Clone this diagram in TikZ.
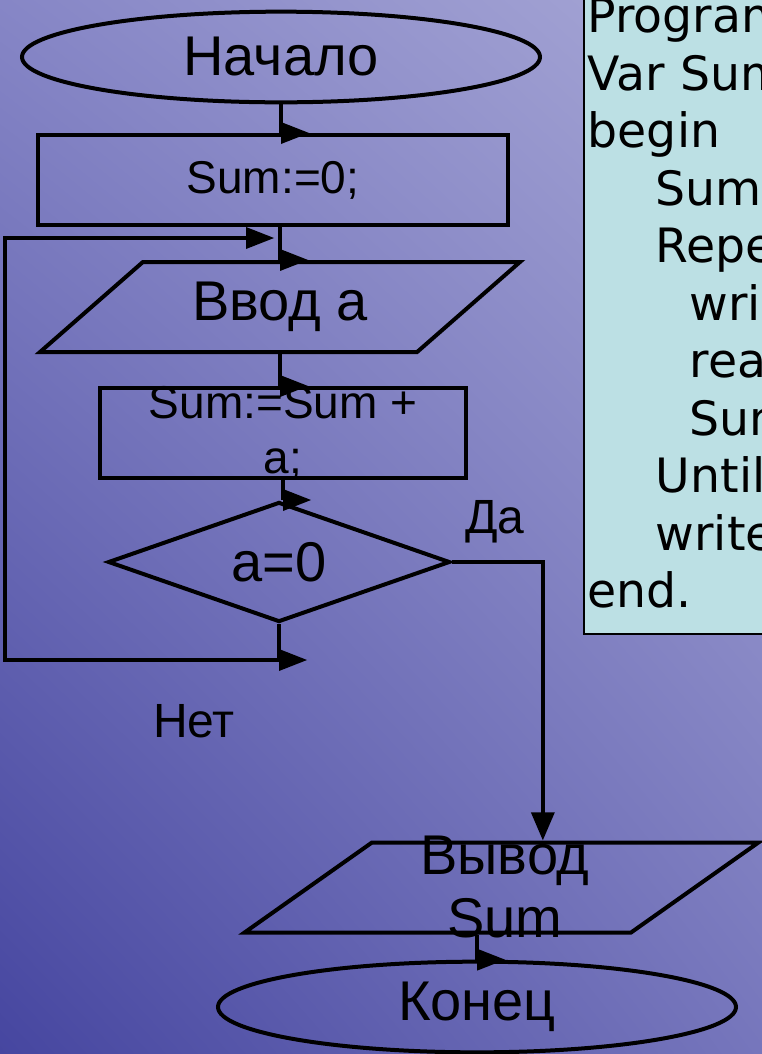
\documentclass[tikz,border=0pt]{standalone}
\usepackage{fontspec}
\setmainfont{Liberation Sans}
\newfontfamily\codefont{DejaVu Sans}
\usetikzlibrary{shapes.geometric,arrows.meta,shadings}
\definecolor{bgtl}{RGB}{134,134,198}
\definecolor{bgtr}{RGB}{168,168,214}
\definecolor{bgbl}{RGB}{70,70,160}
\definecolor{bgbr}{RGB}{118,118,188}
\definecolor{codebg}{RGB}{188,224,228}
\begin{document}
\begin{tikzpicture}[x=0.75pt,y=-0.75pt,line width=3pt,
  term/.style={ellipse,draw,minimum width=388.5pt,minimum height=68pt,inner sep=0pt,font=\fontsize{42}{48}\selectfont},
  proc/.style={rectangle,draw,minimum height=67.5pt,inner sep=0pt,font=\fontsize{34.5}{41}\selectfont},
  io/.style={trapezium,trapezium stretches=true,draw,minimum height=67.5pt,inner sep=0pt,font=\fontsize{42}{47}\selectfont},
  test/.style={diamond,aspect=2.85,draw,minimum width=256.5pt,minimum height=90pt,inner sep=0pt,font=\fontsize{42}{48}\selectfont},
  txt/.style={align=center,inner sep=0pt},
  lbl/.style={font=\fontsize{36}{40}\selectfont},
  rtip/.pic={\fill (0,-11)--(28,0)--(0,11)--cycle;}]
\useasboundingbox (0,0) rectangle (762,1054);
\clip (0,0) rectangle (762,1054);
\shade[upper left=bgtl,upper right=bgtr,lower left=bgbl,lower right=bgbr] (0,0) rectangle (762,1054);
% program text
\node[draw,line width=1.2pt,fill=codebg,anchor=north west,inner xsep=3pt,inner ysep=19.5pt,text width=200pt,align=left,font=\codefont\fontsize{35.5}{43.1}\selectfont] (code) at (583,-28.5)
  {Program\\Var Sum\\begin\\\hspace*{51pt}Sum\\\hspace*{51pt}Repeat\\\hspace*{76.5pt}write\\\hspace*{76.5pt}read\\\hspace*{76.5pt}Sum\\\hspace*{51pt}Until\\\hspace*{51pt}write\\end.};
% blocks
\node[term] (start) at (281,57) {Начало};
\node[proc,minimum width=352.5pt] (init) at (273,180) {Sum:=0;};
\node[io,trapezium left angle=37,trapezium right angle=143,minimum width=360pt] (in) at (280,307) {Ввод а};
\node[proc,minimum width=274.5pt] (add) at (283,433) {};
\node[txt,font=\fontsize{34.5}{41}\selectfont] (addtxt) at (add) {Sum:=Sum +\\a;};
\node[test] (cond) at (279,562) {a=0};
\node[io,trapezium left angle=35,trapezium right angle=145,minimum width=386pt] (out) at (501.5,887.5) {\phantom{Sum}};
\node[txt,font=\fontsize{42}{47}\selectfont] (outtxt) at (505,887) {Вывод\\Sum};
\node[term] (stop) at (477,1007) {Конец};
\node[lbl] (yes) at (495,522) {Да};
\node[lbl] (no) at (194,721) {Нет};
\coordinate (loop) at (5,238);
% connectors
\draw (start.south) -- (start.south |- init.north) pic{rtip};
\draw (in.north |- init.south) -- (in.north) pic{rtip};
\draw (in.south) -- (in.south |- add.north) pic{rtip};
\draw (add.south) -- (add.south |- cond.north) pic{rtip};
\draw (cond.south) -- ++(0,36) coordinate (nbend) pic{rtip};
\draw (nbend) -| (loop) -- ([xshift=-25.5pt]in.north |- loop) pic{rtip};
\draw[-{Triangle[length=21pt,width=17pt]}] (cond.east) -| ([xshift=31pt]out.north);
\draw (stop.north |- out.south) -- (stop.north) pic{rtip};
\end{tikzpicture}
\end{document}
